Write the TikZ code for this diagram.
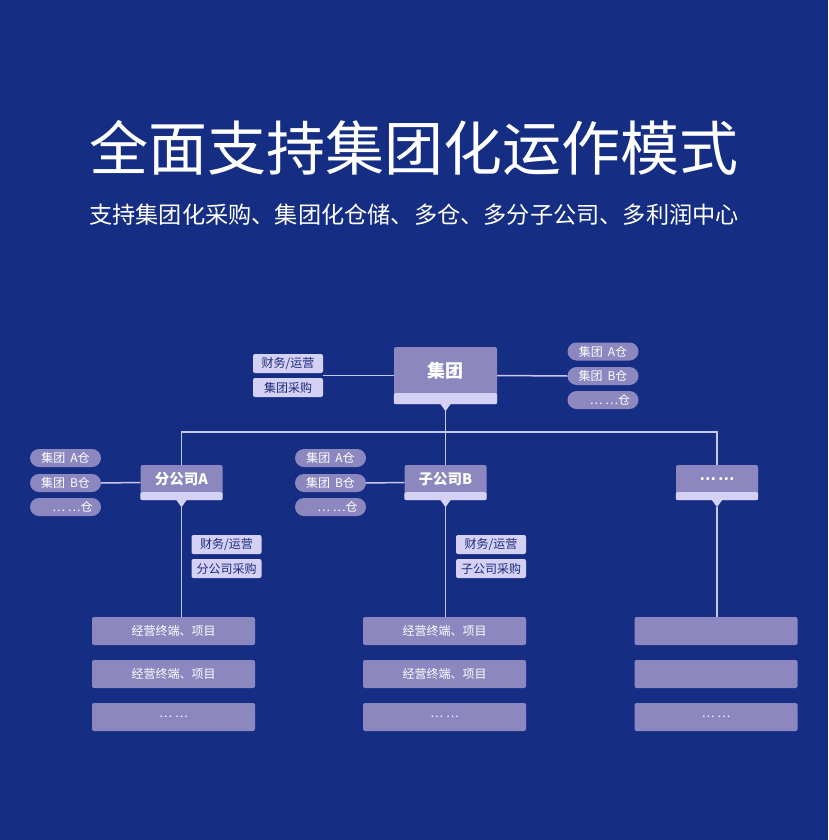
\documentclass[tikz,border=0pt]{standalone}
\usepackage{fontspec}
\setmainfont{Noto Sans CJK SC}
\definecolor{bgc}{HTML}{152D82}
\definecolor{nodec}{HTML}{8C87BF}
\definecolor{lightc}{HTML}{D4D1F5}
\definecolor{linec}{HTML}{C9C6EF}
\definecolor{lbltext}{HTML}{1E2B7C}
\tikzset{
  lbl/.style={fill=lightc, rounded corners=2pt, text=lbltext, font=\fontsize{12}{12}\selectfont, minimum width=70pt, minimum height=19pt, inner sep=0pt},
  pill/.style={fill=nodec, rounded corners=9pt, text=white, font=\fontsize{12}{12}\selectfont, minimum width=71pt, minimum height=18pt, inner sep=0pt},
  leaf/.style={fill=nodec, rounded corners=2pt, text=white, font=\fontsize{12}{12}\selectfont, minimum width=163pt, minimum height=28pt, inner sep=0pt},
  comp/.style={fill=nodec, rounded corners=2pt, minimum width=82pt, minimum height=35pt, inner sep=0pt},
  comptext/.style={text=white, font=\bfseries\fontsize{14.5}{14.5}\selectfont, inner sep=0pt},
  conn/.style={draw=linec, line width=1.5pt},
}
\newcommand{\stripptr}[2]{% node name, strip height
  \fill[lightc, rounded corners=2pt] ([yshift=#2]#1.south west) -- (#1.south west) -- (#1.south east) -- ([yshift=#2]#1.south east) -- cycle;
  \fill[lightc] ([xshift=-5]#1.south) -- ([xshift=5]#1.south) -- ([yshift=-7]#1.south) -- cycle;
  \coordinate (#1tip) at ([yshift=-7]#1.south);
}
\newcommand{\dts}{…\hspace{3pt}…}
\newcommand{\cang}[1]{集团\hspace{5pt}#1仓}
\begin{document}
\begin{tikzpicture}[x=1pt,y=-1pt]
\fill[bgc] (0,0) rectangle (828,840);
\useasboundingbox (0,0) rectangle (828,840);

% titles
\node[text=white, font=\fontsize{59}{59}\selectfont, inner sep=0pt] (title) at (414,148) {全面支持集团化运作模式};
\node[text=white, font=\fontsize{23.2}{23.2}\selectfont, inner sep=0pt] (sub) at (414,215) {支持集团化采购、集团化仓储、多仓、多分子公司、多利润中心};

% group node
\node[comp, minimum width=103pt, minimum height=57pt] (G) at (445.5,375.5) {};
\stripptr{G}{11}
\node[comptext, font=\bfseries\fontsize{18}{18}\selectfont] (Gt) at (445.5,371) {集团};

\node[lbl] (gl1) at (288,363.5) {财务/运营};
\node[lbl] (gl2) at (288,387.5) {集团采购};
\node[pill] (gp1) at (603,351.5) {\cang{A}};
\node[pill] (gp2) at (603,376) {\cang{B}};
\node[pill] (gp3) at (603,400) {\hspace{14pt}\dts 仓};
\draw[conn] (G.west) -- (G.west -| gl1.east);
\draw[conn] (G.east) -- (gp2.west);

% companies
\node[comp] (A) at (181.5,482.5) {};
\stripptr{A}{8}
\node[comptext] (At) at (181.5,479) {分公司A};
\node[comp] (B) at (445.5,482.5) {};
\stripptr{B}{8}
\node[comptext] (Bt) at (445.5,479) {子公司B};
\node[comp] (D) at (717,482.5) {};
\stripptr{D}{8}
\node[comptext] (Dt) at (717,479) {…\,…};

% bus
\coordinate (busL) at (181.5,432);
\coordinate (busR) at (717,432);
\draw[conn] (A.north) -- (busL) -- (busR) -- (D.north);
\draw[conn] (Gtip) -- (Gtip |- B.north);

% company A side
\node[pill] (ap1) at (65.5,458) {\cang{A}};
\node[pill] (ap2) at (65.5,483) {\cang{B}};
\node[pill] (ap3) at (65.5,507) {\hspace{14pt}\dts 仓};
\draw[conn] (A.west) -- (ap2.east);
\node[lbl] (al1) at (226.5,544.5) {财务/运营};
\node[lbl] (al2) at (226.5,568.5) {分公司采购};

% company B side
\node[pill] (bp1) at (330.5,458) {\cang{A}};
\node[pill] (bp2) at (330.5,483) {\cang{B}};
\node[pill] (bp3) at (330.5,507) {\hspace{14pt}\dts 仓};
\draw[conn] (B.west) -- (bp2.east);
\node[lbl] (bl1) at (491,544.5) {财务/运营};
\node[lbl] (bl2) at (491,568.5) {子公司采购};

% leaves
\node[leaf] (a1) at (173.5,631) {经营终端、项目};
\node[leaf] (a2) at (173.5,674) {经营终端、项目};
\node[leaf] (a3) at (173.5,717) {\dts};
\node[leaf] (b1) at (444.5,631) {经营终端、项目};
\node[leaf] (b2) at (444.5,674) {经营终端、项目};
\node[leaf] (b3) at (444.5,717) {\dts};
\node[leaf] (d1) at (716,631) {};
\node[leaf] (d2) at (716,674) {};
\node[leaf] (d3) at (716,717) {\dts};

\draw[conn] (Atip) -- (Atip |- a1.north);
\draw[conn] (Btip) -- (Btip |- b1.north);
\draw[conn] (Dtip) -- (Dtip |- d1.north);
\end{tikzpicture}
\end{document}
